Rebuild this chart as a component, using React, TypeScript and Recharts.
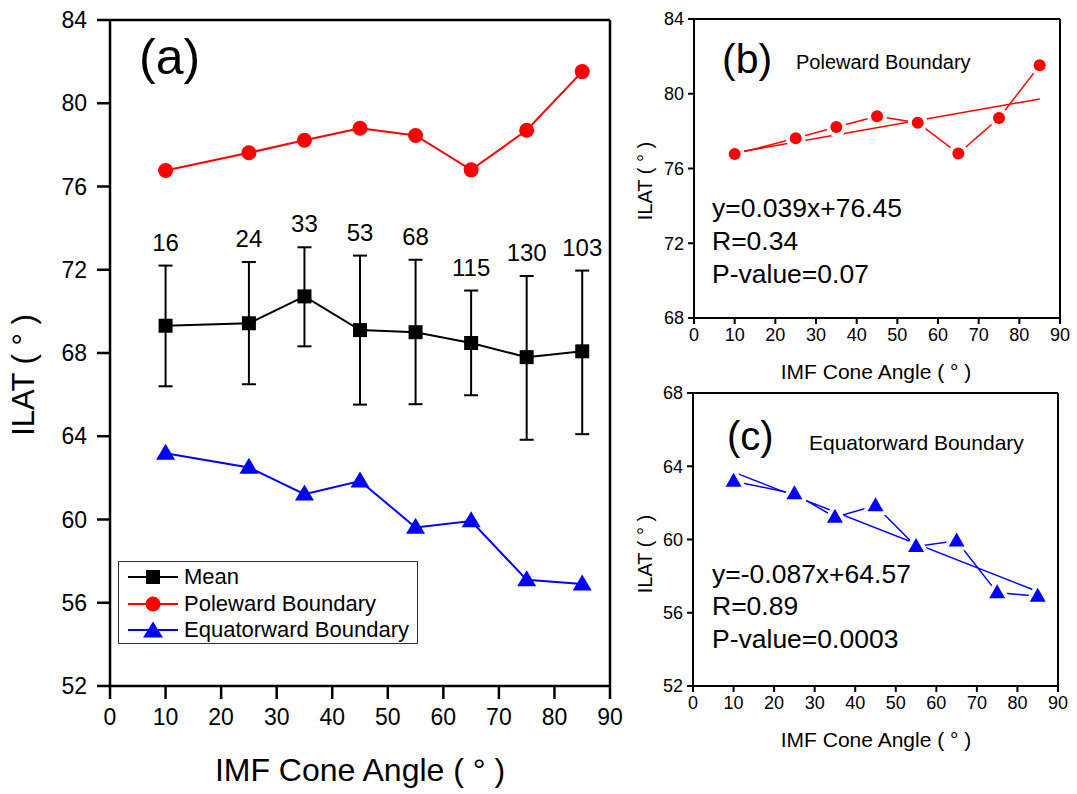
import { LineChart, Line, XAxis, YAxis, ErrorBar, LabelList, Legend } from 'recharts';

// IMF cone angle bins (deg)
const coneAngles = [10, 25, 35, 45, 55, 65, 75, 85];

// ILAT values
const polewardIlat = [76.77, 77.62, 78.22, 78.8, 78.45, 76.8, 78.7, 81.52];
const equatorwardIlat = [63.18, 62.5, 61.22, 61.85, 59.62, 59.93, 57.1, 56.9];
const meanIlat = [69.31, 69.43, 70.72, 69.1, 69.0, 68.48, 67.8, 68.08];
const meanUpper = [72.2, 72.37, 73.08, 72.68, 72.48, 71.0, 71.7, 71.96];
const meanLower = [66.4, 66.5, 68.32, 65.52, 65.54, 65.97, 63.83, 64.1];
const eventCounts = [16, 24, 33, 53, 68, 115, 130, 103];

// linear fit end points
const fitAngles = [10, 85];
const polewardFit = [76.84, 79.72];
const equatorwardFit = [63.68, 57.16];

const seriesNames = ['Mean', 'Poleward Boundary', 'Equatorward Boundary'];

// ticks
const angleTicks = [0, 10, 20, 30, 40, 50, 60, 70, 80, 90];
const innerAngleTicks = [10, 20, 30, 40, 50, 60, 70, 80];
const ilatTicksA = [52, 56, 60, 64, 68, 72, 76, 80, 84];
const ilatMinorA = [54, 58, 62, 66, 70, 74, 78, 82];
const ilatTicksB = [68, 72, 76, 80, 84];
const ilatMinorB = [70, 74, 78, 82];
const ilatTicksC = [52, 56, 60, 64, 68];
const ilatMinorC = [54, 58, 62, 66];

const polewardRows = coneAngles.map((x, i) => ({ x, y: polewardIlat[i] }));
const equatorwardRows = coneAngles.map((x, i) => ({ x, y: equatorwardIlat[i] }));
const meanRows = coneAngles.map((x, i) => ({
  x,
  y: meanIlat[i],
  err: [meanIlat[i] - meanLower[i], meanUpper[i] - meanIlat[i]],
  top: meanUpper[i],
  n: eventCounts[i],
}));
const polewardFitRows = fitAngles.map((x, i) => ({ x, y: polewardFit[i] }));
const equatorwardFitRows = fitAngles.map((x, i) => ({ x, y: equatorwardFit[i] }));

const FONT = '"Liberation Sans", Arial, sans-serif';
const RED = '#ff0000';
const BLUE = '#0000ff';
const THIN = 0.01; // axes must have a non-zero size to be drawn

const squareDot = (size: number, color: string) => (p: any) => (
  <rect key={`sq-${p.index}`} x={p.cx - size / 2} y={p.cy - size / 2} width={size} height={size} fill={color} />
);

const circleDot = (r: number, color: string, halo = false) => (p: any) => (
  <circle
    key={`ci-${p.index}`}
    cx={p.cx}
    cy={p.cy}
    r={r}
    fill={color}
    stroke={halo ? '#fff' : 'none'}
    strokeWidth={halo ? 8 : 0}
    paintOrder="stroke"
  />
);

const triPoints = (cx: number, cy: number, w: number, h: number) =>
  `${cx},${cy - h * 0.6} ${cx - w / 2},${cy + h * 0.4} ${cx + w / 2},${cy + h * 0.4}`;

const triangleDot = (w: number, h: number, color: string, halo = false) => (p: any) => (
  <polygon
    key={`tr-${p.index}`}
    points={triPoints(p.cx, p.cy, w, h)}
    fill={color}
    stroke={halo ? '#fff' : 'none'}
    strokeWidth={halo ? 8 : 0}
    strokeLinejoin="round"
    paintOrder="stroke"
  />
);

// boxed frame: outward ticks bottom/left, inward ticks top/right, minor ticks on y
function frame(domain: number[], major: number[], minor: number[], big: number, small: number, fontSize: number, gap: number, width: number) {
  const line = { stroke: '#000', strokeWidth: width };
  const tick = { fill: '#000', fontSize, fontFamily: FONT };
  return [
    <XAxis key="xb" dataKey="x" type="number" domain={[0, 90]} ticks={angleTicks} interval={0} height={THIN}
      tickSize={big} tickMargin={gap} axisLine={line} tickLine={line} tick={tick} allowDataOverflow />,
    <XAxis key="xt" xAxisId="top" orientation="top" dataKey="x" type="number" domain={[0, 90]} ticks={innerAngleTicks}
      interval={0} height={THIN} mirror tickSize={big} axisLine={line} tickLine={line} tick={false} allowDataOverflow />,
    <YAxis key="yl" type="number" domain={domain} ticks={major} interval={0} width={THIN}
      tickSize={big} tickMargin={gap} axisLine={line} tickLine={line} tick={tick} allowDataOverflow />,
    <YAxis key="ylm" yAxisId="lm" type="number" domain={domain} ticks={minor} interval={0} width={THIN}
      tickSize={small} axisLine={false} tickLine={line} tick={false} allowDataOverflow />,
    <YAxis key="yr" yAxisId="r" orientation="right" type="number" domain={domain} ticks={major} interval={0} width={THIN}
      mirror tickSize={big} axisLine={line} tickLine={line} tick={false} allowDataOverflow />,
    <YAxis key="yrm" yAxisId="rm" orientation="right" type="number" domain={domain} ticks={minor} interval={0} width={THIN}
      mirror tickSize={small} axisLine={false} tickLine={line} tick={false} allowDataOverflow />,
  ];
}

function legendMarker(type: string, color: string) {
  if (type === 'square') return <rect x={18} y={6} width={14} height={14} fill={color} />;
  if (type === 'circle') return <circle cx={25} cy={13} r={7.5} fill={color} />;
  return <polygon points={triPoints(25, 14, 20, 16)} fill={color} />;
}

const renderLegend = (props: any) => {
  const items = (props.payload || [])
    .filter((p: any) => p.type !== 'none')
    .sort((a: any, b: any) => seriesNames.indexOf(a.value) - seriesNames.indexOf(b.value));
  return (
    <div
      style={{
        border: '1px solid #333',
        background: '#fff',
        width: 300,
        height: 83,
        boxSizing: 'border-box',
        paddingTop: 2,
        paddingLeft: 9,
        fontFamily: FONT,
        fontSize: 22,
        color: '#000',
      }}
    >
      {items.map((item: any) => (
        <div key={item.value} style={{ display: 'flex', alignItems: 'center', height: 26.5 }}>
          <svg width={50} height={26} style={{ marginRight: 6 }}>
            <line x1={0} y1={13} x2={50} y2={13} stroke={item.color} strokeWidth={2} />
            {legendMarker(item.type, item.color)}
          </svg>
          <span>{item.value}</span>
        </div>
      ))}
    </div>
  );
};

export default function App() {
  return (
    <div
      style={{
        position: 'absolute',
        left: 0,
        top: 0,
        width: 1077,
        height: 794,
        background: '#fff',
        fontFamily: FONT,
        overflow: 'hidden',
      }}
    >
      {/* (a) all three series */}
      <div style={{ position: 'absolute', left: 0, top: 0 }}>
        <LineChart width={640} height={794} margin={{ top: 20, right: 30, bottom: 108, left: 110 }}>
          {frame([52, 84], ilatTicksA, ilatMinorA, 13, 7, 23, 10, 2.5)}
          <Line data={meanRows} dataKey="y" name={seriesNames[0]} stroke="#000" strokeWidth={2}
            dot={squareDot(14, '#000')} legendType="square" isAnimationActive={false}>
            <ErrorBar dataKey="err" width={7} strokeWidth={2} stroke="#000" direction="y" />
          </Line>
          <Line data={polewardRows} dataKey="y" name={seriesNames[1]} stroke={RED} strokeWidth={2}
            dot={circleDot(7.5, RED)} legendType="circle" isAnimationActive={false} />
          <Line data={equatorwardRows} dataKey="y" name={seriesNames[2]} stroke={BLUE} strokeWidth={2}
            dot={triangleDot(19, 16, BLUE)} legendType="triangle" isAnimationActive={false} />
          <Line data={meanRows} dataKey="top" stroke="none" dot={false} legendType="none" isAnimationActive={false}>
            <LabelList dataKey="n" position="top" offset={15} fill="#000" fontSize={24} fontFamily={FONT} />
          </Line>
          <Legend layout="vertical" align="center" verticalAlign="middle" content={renderLegend}
            wrapperStyle={{ left: 118, top: 561, width: 300, height: 83 }} />
        </LineChart>
      </div>

      {/* (b) poleward boundary with fit */}
      <div style={{ position: 'absolute', left: 630, top: 0 }}>
        <LineChart width={447} height={400} margin={{ top: 19, right: 17, bottom: 82, left: 64 }}>
          {frame([68, 84], ilatTicksB, ilatMinorB, 6, 3, 18, 4, 2)}
          <Line data={polewardRows} dataKey="y" stroke={RED} strokeWidth={1.5}
            dot={circleDot(6, RED, true)} isAnimationActive={false} />
          <Line data={polewardFitRows} dataKey="y" stroke={RED} strokeWidth={1.5} dot={false} isAnimationActive={false} />
        </LineChart>
      </div>

      {/* (c) equatorward boundary with fit */}
      <div style={{ position: 'absolute', left: 630, top: 380 }}>
        <LineChart width={447} height={414} margin={{ top: 13, right: 19, bottom: 108, left: 63 }}>
          {frame([52, 68], ilatTicksC, ilatMinorC, 6, 3, 18, 4, 2)}
          <Line data={equatorwardRows} dataKey="y" stroke={BLUE} strokeWidth={1.5}
            dot={triangleDot(16, 14, BLUE, true)} isAnimationActive={false} />
          <Line data={equatorwardFitRows} dataKey="y" stroke={BLUE} strokeWidth={1.5} dot={false} isAnimationActive={false} />
        </LineChart>
      </div>

      {/* titles and annotations */}
      <svg width={1077} height={794} style={{ position: 'absolute', left: 0, top: 0, pointerEvents: 'none' }}
        fontFamily={FONT} fill="#000">
        <text x={139} y={74} fontSize={50}>(a)</text>
        <text transform="translate(34,375) rotate(-90)" textAnchor="middle" fontSize={31}>ILAT ( ° )</text>
        <text x={360} y={781} textAnchor="middle" fontSize={32}>IMF Cone Angle ( ° )</text>

        <text x={722} y={73} fontSize={41}>(b)</text>
        <text x={796} y={69} fontSize={20}>Poleward Boundary</text>
        <text x={712} y={217} fontSize={26.5}>y=0.039x+76.45</text>
        <text x={712} y={250} fontSize={26.5}>R=0.34</text>
        <text x={712} y={283} fontSize={26.5}>P-value=0.07</text>
        <text transform="translate(652,181) rotate(-90)" textAnchor="middle" fontSize={20}>ILAT ( ° )</text>
        <text x={876} y={379} textAnchor="middle" fontSize={21}>IMF Cone Angle ( ° )</text>

        <text x={727} y={450} fontSize={40}>(c)</text>
        <text x={809} y={450} fontSize={21}>Equatorward Boundary</text>
        <text x={712} y={583} fontSize={26.5}>y=-0.087x+64.57</text>
        <text x={712} y={615} fontSize={26.5}>R=0.89</text>
        <text x={712} y={648} fontSize={26.5}>P-value=0.0003</text>
        <text transform="translate(652,554) rotate(-90)" textAnchor="middle" fontSize={20}>ILAT ( ° )</text>
        <text x={876} y={747} textAnchor="middle" fontSize={21}>IMF Cone Angle ( ° )</text>
      </svg>
    </div>
  );
}
